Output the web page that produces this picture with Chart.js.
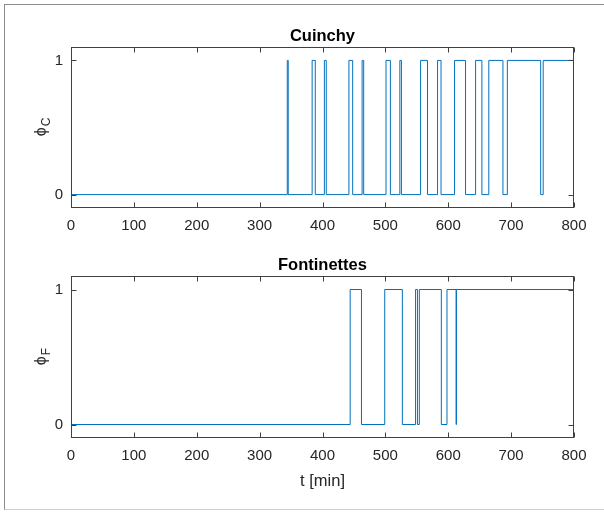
<!DOCTYPE html>
<html>
<head>
<meta charset="utf-8">
<script src="https://cdn.jsdelivr.net/npm/chart.js@4"></script>
<style>
  html, body { margin: 0; padding: 0; background: #fff; }
  #fig { position: relative; width: 604px; height: 512px; overflow: hidden; }
  #frame { position: absolute; left: 4px; top: 4px; width: 620px; height: 504px;
           border-top: 1px solid #8c8c8c; border-left: 1px solid #8c8c8c; border-bottom: 1px solid #d0d0d0; }
  canvas { position: absolute; left: 0; }
</style>
</head>
<body>
<div id="fig">
  <div id="frame"></div>
  <canvas id="top" width="604" height="282" style="top:0px"></canvas>
  <canvas id="bottom" width="604" height="283" style="top:229px"></canvas>
</div>
<script>
// switching times (min); the state flips 0 -> 1 -> 0 ... at each one
const cuinchyTimes = [344, 345.5, 383.5, 388.5, 403, 406, 442, 448, 463, 465.5,
                      501, 508, 523, 525.5, 556, 567, 583, 588.5, 610, 627.5,
                      643.5, 653.5, 664.5, 687, 694, 747, 751];
const fontinettesTimes = [444, 462, 499, 527, 548, 551, 554, 589, 598, 612.5, 613];

const xTicks = [0, 100, 200, 300, 400, 500, 600, 700, 800];
const yTicks = [0, 1];
const T_END = 800;

const BLUE = '#0072BD';
const AXIS = '#404040';
const TEXT = '#262626';
const FAMILY = "'Liberation Sans', Arial, Helvetica, sans-serif";

function stepData(times) {
  let v = 0;
  const pts = [{ x: 0, y: 0 }];
  times.forEach(t => { v = 1 - v; pts.push({ x: t, y: v }); });
  pts.push({ x: T_END, y: v });
  return pts;
}

// MATLAB-like box: frame, inward ticks on all sides, title and axis labels
const matlabBox = {
  id: 'matlabBox',
  afterDraw(chart, args, opts) {
    const { ctx, chartArea: a, scales } = chart;
    const L = Math.round(a.left) + 0.5, R = Math.round(a.right) - 0.5;
    const T = Math.round(a.top) + 0.5, B = Math.round(a.bottom) - 0.5;
    ctx.save();
    ctx.strokeStyle = AXIS;
    ctx.lineWidth = 1;
    ctx.strokeRect(L, T, R - L, B - T);
    ctx.beginPath();
    xTicks.forEach(v => {
      const x = Math.round(scales.x.getPixelForValue(v)) + 0.5;
      ctx.moveTo(x, B); ctx.lineTo(x, B - 5);
      ctx.moveTo(x, T); ctx.lineTo(x, T + 5);
    });
    yTicks.forEach(v => {
      const y = Math.round(scales.y.getPixelForValue(v)) + 0.5;
      ctx.moveTo(L, y); ctx.lineTo(L + 5, y);
      ctx.moveTo(R, y); ctx.lineTo(R - 5, y);
    });
    ctx.stroke();

    // title centred over the axes box
    ctx.fillStyle = '#000';
    ctx.font = 'bold 16.5px ' + FAMILY;
    ctx.textAlign = 'center';
    ctx.textBaseline = 'alphabetic';
    ctx.fillText(opts.title, (a.left + a.right) / 2, a.top - 6);

    // y label: phi with subscript
    ctx.fillStyle = TEXT;
    const midY = (scales.y.getPixelForValue(0) + scales.y.getPixelForValue(1)) / 2;
    ctx.translate(41, midY);
    ctx.rotate(-Math.PI / 2);
    ctx.font = '16px ' + FAMILY;
    const w1 = ctx.measureText('ϕ').width;
    ctx.font = '12px ' + FAMILY;
    const w2 = ctx.measureText(opts.sub).width;
    ctx.textAlign = 'left';
    ctx.font = '16px ' + FAMILY;
    ctx.fillText('ϕ', -(w1 + w2) / 2, 5);
    ctx.font = '12px ' + FAMILY;
    ctx.fillText(opts.sub, -(w1 + w2) / 2 + w1 + 1, 9);
    ctx.setTransform(1, 0, 0, 1, 0, 0);

    if (opts.xLabel) {
      ctx.font = '16.5px ' + FAMILY;
      ctx.textAlign = 'center';
      ctx.textBaseline = 'middle';
      ctx.fillText(opts.xLabel, (a.left + a.right) / 2, a.bottom + 43);
    }
    ctx.restore();
  }
};

function makeChart(id, title, times, sub, xLabel) {
  return new Chart(document.getElementById(id), {
    type: 'line',
    data: {
      datasets: [{
        data: stepData(times),
        borderColor: BLUE,
        borderWidth: 1,
        stepped: 'before',
        pointRadius: 0,
        fill: false
      }]
    },
    options: {
      responsive: false,
      animation: false,
      layout: { padding: { left: 0, right: 30, top: 47, bottom: 0 } },
      plugins: {
        legend: { display: false },
        tooltip: { enabled: false },
        title: { display: false },
        matlabBox: { title, sub, xLabel }
      },
      scales: {
        x: {
          type: 'linear',
          min: 0, max: T_END,
          afterBuildTicks: s => { s.ticks = xTicks.map(v => ({ value: v })); },
          afterFit: s => { s.height = 74; },
          grid: { display: false, drawTicks: false },
          border: { display: false },
          ticks: { color: TEXT, font: { family: FAMILY, size: 15 }, padding: 9, maxRotation: 0 }
        },
        y: {
          min: -0.1, max: 1.1,
          afterBuildTicks: s => { s.ticks = yTicks.map(v => ({ value: v })); },
          afterFit: s => { s.width = 71; },
          grid: { display: false, drawTicks: false },
          border: { display: false },
          ticks: { color: TEXT, font: { family: FAMILY, size: 15 }, padding: 8 }
        }
      }
    },
    plugins: [matlabBox]
  });
}

makeChart('top', 'Cuinchy', cuinchyTimes, 'C', null);
makeChart('bottom', 'Fontinettes', fontinettesTimes, 'F', 't [min]');
</script>
</body>
</html>
